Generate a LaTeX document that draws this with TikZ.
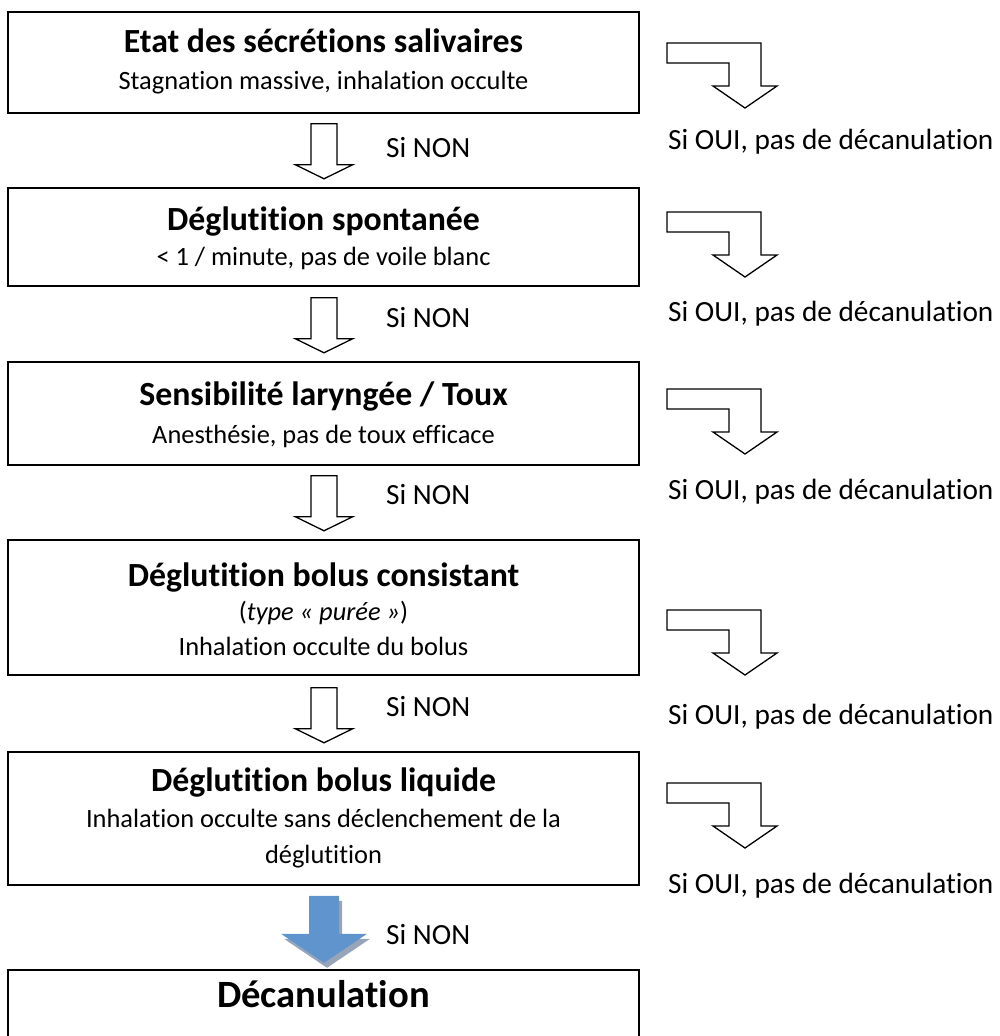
\documentclass[tikz,border=0pt]{standalone}
\usepackage{fontspec}
\setmainfont{Carlito}[Ligatures={NoCommon}]
\usetikzlibrary{calc}
\definecolor{arrowblue}{RGB}{96,148,204}
\definecolor{arrowshadow}{RGB}{150,165,185}
\begin{document}
\begin{tikzpicture}[x=1pt,y=-1pt,
  box/.style={draw=black,line width=1.6pt,minimum width=631pt,inner sep=0pt,fill=white},
  ttl/.style={font=\fontsize{33.8}{40}\selectfont\bfseries,inner sep=0pt,text height=0.7em,text depth=0.2em},
  bigttl/.style={font=\fontsize{38.6}{44}\selectfont\bfseries,inner sep=0pt,text height=0.7em,text depth=0.2em},
  bdy/.style={font=\fontsize{26.4}{34}\selectfont,inner sep=0pt,text height=0.7em,text depth=0.2em},
  lbl/.style={font=\fontsize{29.3}{34}\selectfont,inner sep=0pt,anchor=west,text height=0.7em,text depth=0.2em},
  blockarrow/.style={draw=black,line width=1.3pt,fill=white,line join=miter},
  downarr/.pic={\path[blockarrow] (-13,0) -- (13,0) -- (13,41) -- (28.5,41) -- (0,55) -- (-28.5,41) -- (-13,41) -- cycle;},
  bentarr/.pic={\path[blockarrow] (0,0) -- (94,0) -- (94,43) -- (110,43) -- (78,65) -- (46,43) -- (62,43) -- (62,20) -- (0,20) -- cycle;},
  bluearr/.pic={
    \fill[arrowshadow] (-12,5) -- (18,5) -- (18,43) -- (46,43) -- (3,72) -- (-40,43) -- (-12,43) -- cycle;
    \fill[arrowblue] (-15,0) -- (15,0) -- (15,38) -- (43,38) -- (0,67) -- (-43,38) -- (-15,38) -- cycle;}
]
\useasboundingbox (0,0) rectangle (1000,1036);
\clip (0,0) rectangle (1000,1036);

% boxes
\node[box,minimum height=101pt] (b1) at (323.5,62.5) {};
\node[box,minimum height=98pt]  (b2) at (323.5,237) {};
\node[box,minimum height=103pt] (b3) at (323.5,413.5) {};
\node[box,minimum height=135pt] (b4) at (323.5,607.5) {};
\node[box,minimum height=133pt] (b5) at (323.5,818.5) {};
\node[box,minimum height=100pt] (b6) at (323.5,1020) {};

% texts
\node[ttl] (t1a) at (323.5,50) {Etat des sécrétions salivaires};
\node[bdy] (t1b) at (323.5,87) {Stagnation massive, inhalation occulte};
\node[ttl] (t2a) at (323.5,228) {Déglutition spontanée};
\node[bdy] (t2b) at (323.5,263) {< 1 / minute, pas de voile blanc};
\node[ttl] (t3a) at (323.5,403) {Sensibilité laryngée / Toux};
\node[bdy] (t3b) at (323.5,441) {Anesthésie, pas de toux efficace};
\node[ttl] (t4a) at (323.5,584) {Déglutition bolus consistant};
\node[bdy] (t4b) at (323.5,618) {(\textit{type « purée »})};
\node[bdy] (t4c) at (323.5,653) {Inhalation occulte du bolus};
\node[ttl] (t5a) at (323.5,789) {Déglutition bolus liquide};
\node[bdy] (t5b) at (323.5,825) {Inhalation occulte sans déclenchement de la};
\node[bdy] (t5c) at (323.5,861) {déglutition};
\node[bigttl] (t6) at (323.5,1005) {Décanulation};

% down arrows
\pic at ($(b1.south)+(0.5,10)$) {downarr};
\pic at ($(b2.south)+(0.5,11)$) {downarr};
\pic at ($(b3.south)+(0.5,10)$) {downarr};
\pic at ($(b4.south)+(0.5,12)$) {downarr};
\pic at ($(b5.south)+(0.5,10)$) {bluearr};

\node[lbl] (n1) at (386,155) {Si NON};
\node[lbl] (n2) at (386,325) {Si NON};
\node[lbl] (n3) at (386,502) {Si NON};
\node[lbl] (n4) at (386,714) {Si NON};
\node[lbl] (n5) at (386,942) {Si NON};

% bent arrows
\pic at (667,43)  {bentarr};
\pic at (667,212) {bentarr};
\pic at (667,389) {bentarr};
\pic at (667,610) {bentarr};
\pic at (667,783) {bentarr};

\node[lbl] (o1) at (668,147) {Si OUI, pas de décanulation};
\node[lbl] (o2) at (668,319) {Si OUI, pas de décanulation};
\node[lbl] (o3) at (668,497) {Si OUI, pas de décanulation};
\node[lbl] (o4) at (668,722) {Si OUI, pas de décanulation};
\node[lbl] (o5) at (668,891) {Si OUI, pas de décanulation};
\end{tikzpicture}
\end{document}
